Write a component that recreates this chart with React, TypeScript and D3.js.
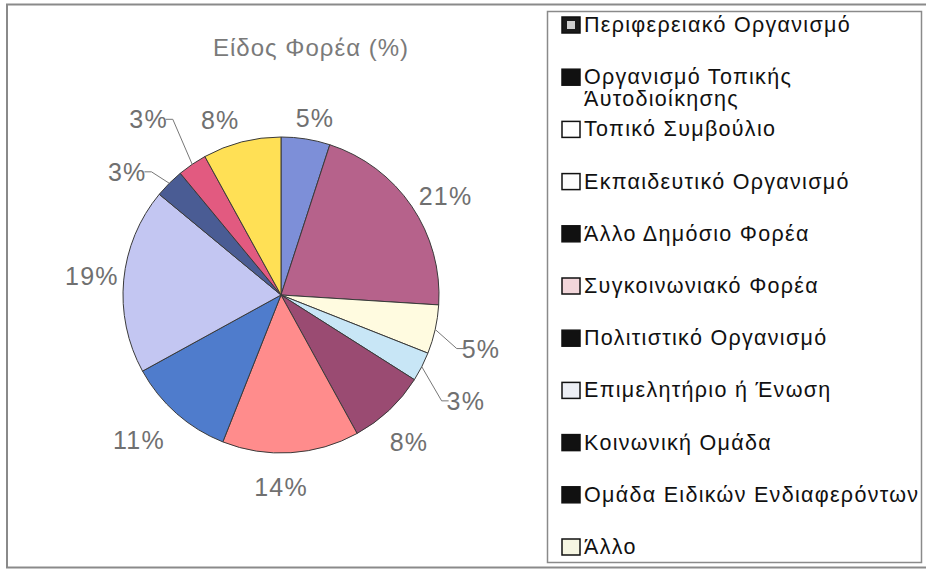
import React from "react";
import * as d3 from "d3";

const categories = [
  "Περιφερειακό Οργανισμό",
  "Οργανισμό Τοπικής Άυτοδιοίκησης",
  "Τοπικό Συμβούλιο",
  "Εκπαιδευτικό Οργανισμό",
  "Άλλο Δημόσιο Φορέα",
  "Συγκοινωνιακό Φορέα",
  "Πολιτιστικό Οργανισμό",
  "Επιμελητήριο ή Ένωση",
  "Κοινωνική Ομάδα",
  "Ομάδα Ειδικών Ενδιαφερόντων",
  "Άλλο",
];
const legendLines = [
  ["Περιφερειακό Οργανισμό"],
  ["Οργανισμό Τοπικής", "Άυτοδιοίκησης"],
  ["Τοπικό Συμβούλιο"],
  ["Εκπαιδευτικό Οργανισμό"],
  ["Άλλο Δημόσιο Φορέα"],
  ["Συγκοινωνιακό Φορέα"],
  ["Πολιτιστικό Οργανισμό"],
  ["Επιμελητήριο ή Ένωση"],
  ["Κοινωνική Ομάδα"],
  ["Ομάδα Ειδικών Ενδιαφερόντων"],
  ["Άλλο"],
];
const values = [5, 21, 5, 3, 8, 14, 11, 19, 3, 3, 8];
const title = "Είδος Φορέα (%)";

// styles
const sliceColors = [
  "#7d8fd8", "#b6628b", "#fffbe0", "#c8e6f6", "#9a4b72", "#ff8c8c",
  "#4f7ccc", "#c3c6f2", "#4a5c94", "#e25a80", "#ffe055",
];
const swatchColors = [
  "#1a1a1a", "#111", "#fff", "#fdfdfd", "#111", "#f2d6da",
  "#111", "#eceef4", "#111", "#111", "#f6f6e2",
];
// [angle shift (deg), radial extra]
const labelPlacement: [number, number][] = [
  [1.9, 22], [3.2, 34], [2.4, 49], [2.8, 55], [2.2, 37], [3.6, 34],
  [3, 45], [0.3, 32], [-6.3, 39], [-2.8, 62], [-4.8, 27],
];
const leaderSlices = [2, 3, 8, 9];

export default function App() {
  const W = 926, H = 570;
  const cx = 281, cy = 295, r = 158;
  const pie = d3.pie<number>().sort(null).value((d) => d);
  const arcs = pie(values);
  const arc = d3.arc<d3.PieArcDatum<number>>().innerRadius(0).outerRadius(r);
  const polar = (a: number, rad: number) => [cx + rad * Math.sin(a), cy - rad * Math.cos(a)];
  const font = "'Liberation Sans', Arial, sans-serif";
  const rowY = (i: number) => 25 + i * 52.2;

  return (
    <svg width={W} height={H} style={{ position: "absolute", left: 0, top: 0, background: "#fff" }}>
      <rect x={7} y={4.5} width={940} height={563} fill="#fff" stroke="#8a8a8a" strokeWidth={2} />
      <text x={311} y={47} textAnchor="middle" dominantBaseline="central" fontFamily={font} fontSize={24} letterSpacing={1} fill="#7a7a7a">
        {title}
      </text>
      <g transform={`translate(${cx},${cy})`}>
        {arcs.map((a, i) => (
          <path key={i} d={arc(a) || ""} fill={sliceColors[i]} stroke="#3a3a3a" strokeWidth={1} />
        ))}
      </g>
      {arcs.map((a, i) => {
        const mid = (a.startAngle + a.endAngle) / 2;
        const [sh, ex] = labelPlacement[i];
        const la = mid + (sh * Math.PI) / 180;
        const [lx, ly] = polar(la, r + ex);
        const txt = `${values[i]}%`;
        let leader = null;
        if (leaderSlices.includes(i)) {
          const [px, py] = polar(mid, r);
          const right = Math.sin(la) > 0;
          const halfW = txt.length * 7.6;
          const ex2 = right ? lx - halfW - 2 : lx + halfW + 2;
          const elbow = right ? ex2 - 7 : ex2 + 7;
          leader = (
            <path
              d={`M${px},${py}L${elbow},${ly}L${ex2},${ly}`}
              fill="none"
              stroke="#777"
              strokeWidth={1}
            />
          );
        }
        return (
          <g key={i}>
            {leader}
            <text x={lx} y={ly} textAnchor="middle" dominantBaseline="central" fontFamily={font} fontSize={25} letterSpacing={1.2} fill="#707070">
              {txt}
            </text>
          </g>
        );
      })}
      <rect x={547.5} y={11.5} width={374} height={551} fill="#fff" stroke="#8a8a8a" strokeWidth={1.5} />
      {legendLines.map((lines, i) => (
        <g key={i}>
          <rect x={562} y={rowY(i) - 8} width={18} height={16} fill={swatchColors[i]} stroke="#111" strokeWidth={1.5} />
          {i === 0 && <rect x={567} y={rowY(i) - 4} width={8} height={8} fill="#cfcfcf" />}
          {lines.map((t, j) => (
            <text key={j} x={584} y={rowY(i) + j * 22} dominantBaseline="central" fontFamily={font} fontSize={21.5} letterSpacing={1.3} fill="#111">
              {t}
            </text>
          ))}
        </g>
      ))}
    </svg>
  );
}
